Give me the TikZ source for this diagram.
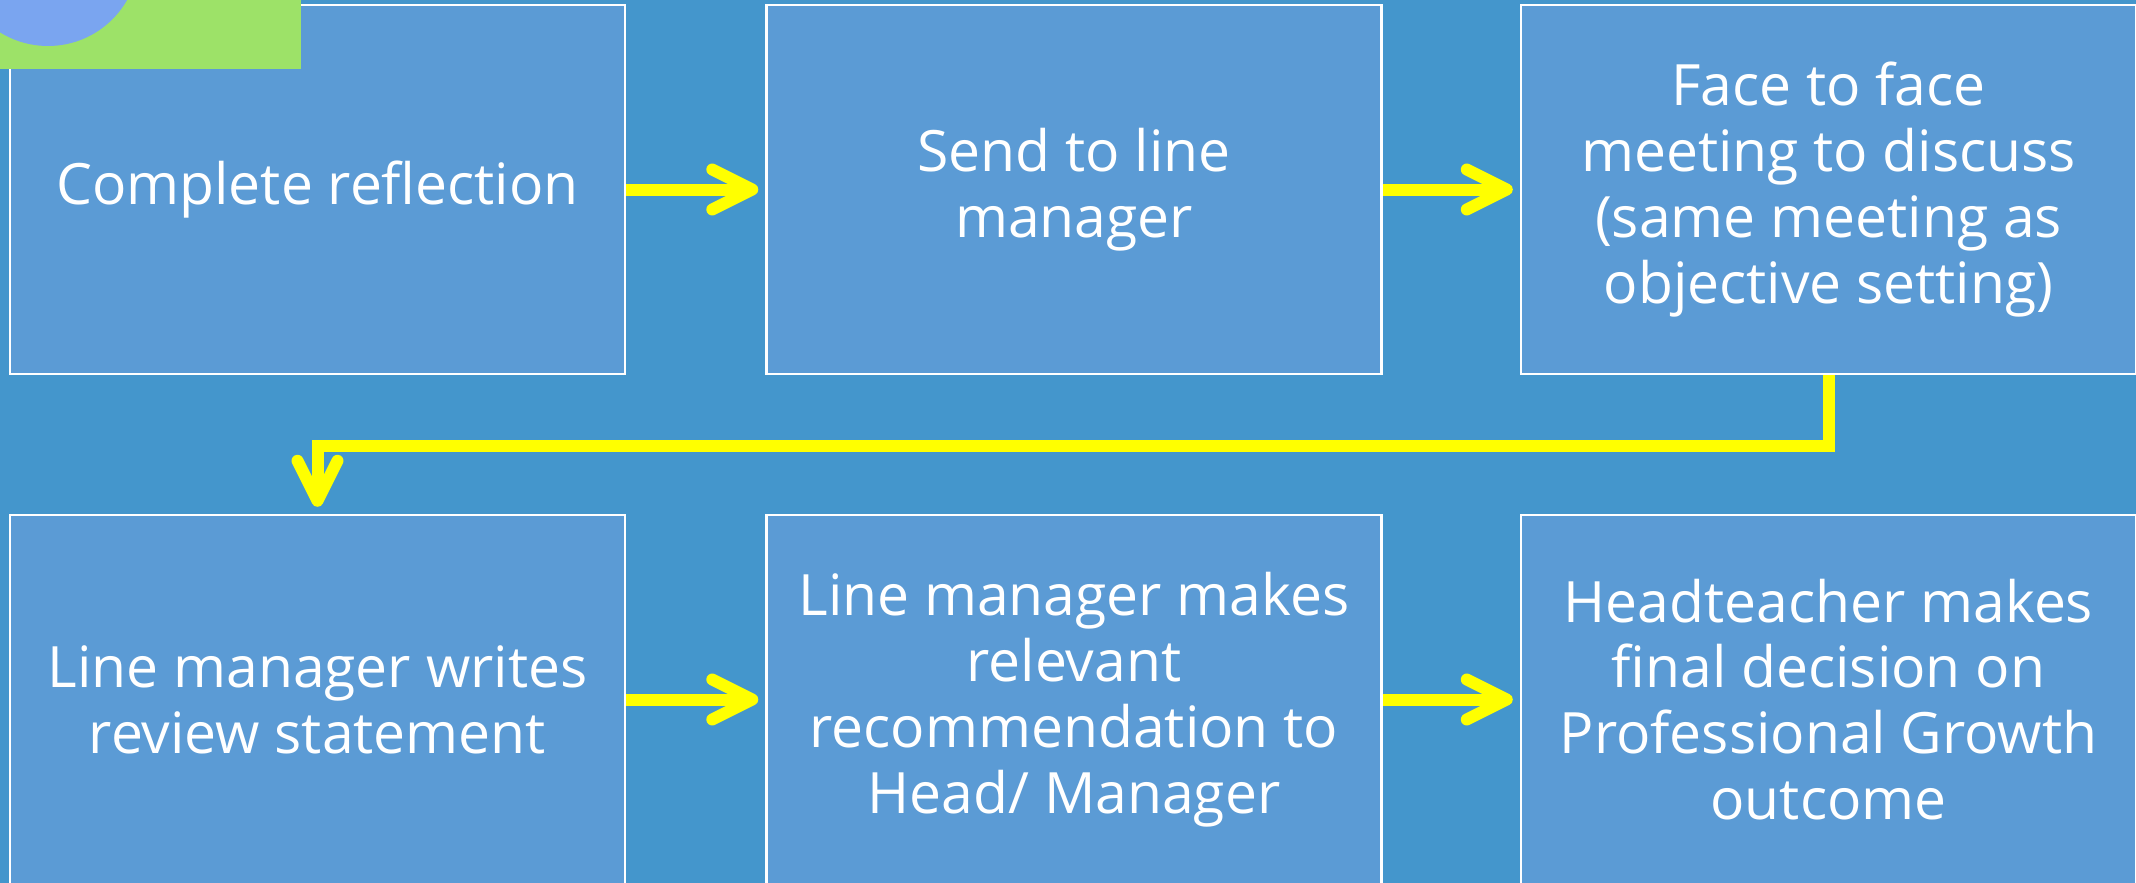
\documentclass[tikz,border=0pt]{standalone}
\usepackage{fontspec}
\setmainfont{Open Sans}
\usetikzlibrary{arrows.meta,positioning,calc}
\definecolor{bgblue}{HTML}{4496CC}
\definecolor{boxblue}{HTML}{5B9BD5}
\definecolor{leafgreen}{HTML}{9DE268}
\definecolor{dotblue}{HTML}{7AA5F0}
\definecolor{flowyellow}{HTML}{FFFF00}

\begin{document}
\begin{tikzpicture}[x=0.5pt,y=-0.5pt,
    every node/.style={font=\fontsize{28.5pt}{32.9pt}\selectfont, text=white},
    stagebox/.style={draw=white, line width=1.2pt, fill=boxblue, align=center,
        minimum width=307.5pt, minimum height=184.5pt, inner sep=0pt},
    flow/.style={draw=flowyellow, line width=6pt,
        -{Straight Barb[length=20pt,width=20pt,round]}, shorten >=3.5pt}]
                \fill[bgblue] (0,0) rectangle (2136,883);
                \useasboundingbox (0,0) rectangle (2136,883);
                % top row
                \node[stagebox] (reflect) at (317.5,189.5) {Complete reflection};
                \node[stagebox] (send) at (1074,189.5) {Send to line\\manager};
                \node[stagebox] (meet) at (1828.5,189.5) {Face to face\\meeting to discuss\\(same meeting as\\objective setting)};
                % bottom row
                \node[stagebox] (review) at (317.5,699.5) {Line manager writes\\review statement};
                \node[stagebox] (recommend) at (1074,699.5) {Line manager makes\\relevant\\recommendation to\\Head/ Manager};
                \node[stagebox] (decide) at (1828.5,699.5) {Headteacher makes\\final decision on\\Professional Growth\\outcome};
                % corner decoration
                \fill[leafgreen] (0,0) rectangle (301,69);
                \begin{scope}
                    \clip (0,0) rectangle (301,69);
                    \fill[dotblue] (48,-45) circle (45.5pt);
                \end{scope}
                \draw[flow] (reflect) -- (send);
                \draw[flow] (send) -- (meet);
                \draw[flow, line join=miter] (meet.south) -- ++(0,71) -| (review.north);
                \draw[flow] (review) -- (recommend);
                \draw[flow] (recommend) -- (decide);
            \end{tikzpicture}
\end{document}
